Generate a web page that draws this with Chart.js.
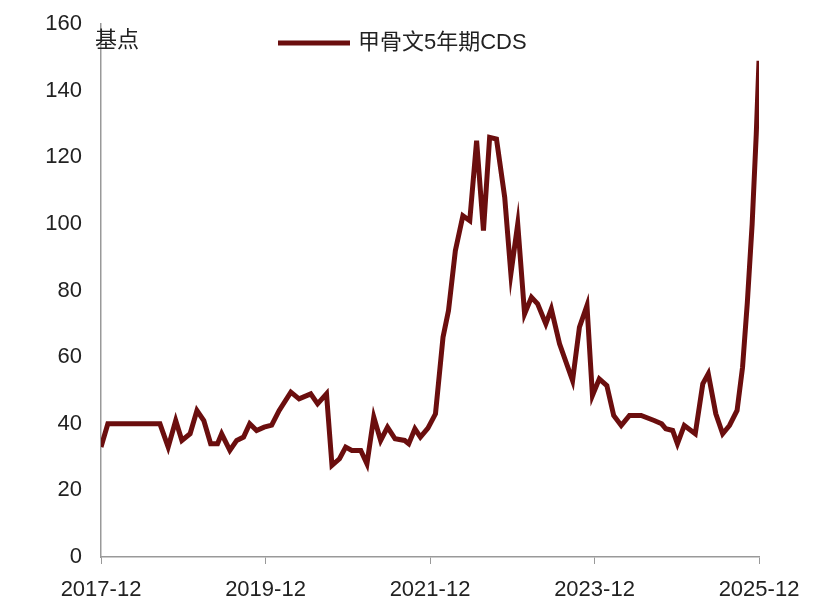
<!DOCTYPE html>
<html>
<head>
<meta charset="utf-8">
<script src="https://cdn.jsdelivr.net/npm/chart.js@4"></script>
<style>
  html, body { margin: 0; padding: 0; background: #fff; }
  #wrap { width: 832px; height: 614px; }
</style>
</head>
<body>
<div id="wrap"><canvas id="cdsChart" width="832" height="614"></canvas></div>
<script>
// months since 2017-12
const months = [0, 1, 8.6, 9.8, 10.9, 11.8, 13, 14, 15, 16, 17, 17.6, 18.8, 19.8, 20.8, 21.7, 22.7, 23.8,
  24.9, 26, 27.7, 28.9, 30.6, 31.6, 32.9, 33.7, 34.8, 35.7, 36.6, 37.9, 38.8, 39.8, 40.8, 41.8, 42.9,
  44.3, 44.9, 45.8, 46.6, 47.7, 48.8, 49.9, 50.7, 51.7, 52.8, 53.8, 54.8, 55.8, 56.7, 57.7, 58.9, 59.8,
  60.8, 61.8, 62.8, 63.7, 64.9, 65.7, 66.9, 68.8, 69.8, 70.9, 71.7, 72.7, 73.8, 74.8, 75.9, 77.1, 78.8,
  80.7, 81.8, 82.4, 83.4, 84.1, 85.1, 86.7, 87.8, 88.6, 89.7, 90.7, 91.7, 92.8, 93.6, 94.3, 95, 95.6, 96];
const cds = [33, 40, 40, 33, 41, 35, 37, 44, 41, 34, 34, 37, 32, 35, 36, 40, 38, 39,
  39.6, 44, 49.5, 47.5, 49, 46, 49, 27.5, 29.5, 33, 32, 32, 28, 42, 35, 39, 35.5,
  35, 34, 38.5, 36, 38.7, 43, 66, 74, 92, 102.5, 101, 125, 98, 126, 125.5, 108, 85,
  100, 73, 78, 76, 70, 74.5, 64, 53, 69, 75.5, 48.5, 53.5, 51.5, 42.5, 39.5, 42.5, 42.5,
  41, 40, 38.5, 38, 34, 39.5, 37, 52, 55, 43, 37, 39.5, 44, 57, 76.5, 100, 127, 149];
const xTickLabels = ["2017-12", "2019-12", "2021-12", "2023-12", "2025-12"];
const seriesName = "甲骨文5年期CDS";
const unitLabel = "基点";

const lineColor = "#6b0e0e";
const fontFamily = "'Liberation Sans', 'Noto Sans CJK SC', sans-serif";

const overlay = {
  id: "overlay",
  afterDraw(chart) {
    const c = chart.ctx;
    c.save();
    c.fillStyle = "#222";
    c.font = "22px " + fontFamily;
    c.textBaseline = "middle";
    c.fillText(unitLabel, 95, 41);
    // legend
    c.strokeStyle = lineColor;
    c.lineWidth = 5;
    c.beginPath();
    c.moveTo(278, 43);
    c.lineTo(350, 43);
    c.stroke();
    c.fillText(seriesName, 358, 43);
    c.restore();
  }
};

new Chart(document.getElementById("cdsChart"), {
  type: "line",
  data: {
    datasets: [{
      label: seriesName,
      data: months.map((m, i) => ({ x: m, y: cds[i] })),
      borderColor: lineColor,
      borderWidth: 5,
      pointRadius: 0,
      tension: 0,
      fill: false,
    }],
  },
  options: {
    responsive: false,
    animation: false,
    layout: { padding: { top: 20, right: 73, left: 0, bottom: 0 } },
    plugins: { legend: { display: false }, tooltip: { enabled: false } },
    scales: {
      x: {
        type: "linear",
        min: 0,
        max: 96,
        afterFit(s) { s.height = 57; },
        afterBuildTicks(s) { s.ticks = [0, 24, 48, 72, 96].map(v => ({ value: v })); },
        ticks: {
          callback: (v) => xTickLabels[v / 24],
          color: "#222",
          font: { size: 22, family: fontFamily },
          padding: 13,
          maxRotation: 0,
          autoSkip: false,
        },
        grid: { drawOnChartArea: false, tickLength: 7, color: "#999" },
        border: { color: "#999", width: 1.5 },
      },
      y: {
        min: 0,
        max: 160,
        afterFit(s) { s.width = 101; },
        ticks: {
          stepSize: 20,
          color: "#222",
          font: { size: 22, family: fontFamily },
          padding: 11,
        },
        grid: { display: false },
        border: { color: "#999", width: 1.5 },
      },
    },
  },
  plugins: [overlay],
});
</script>
</body>
</html>
